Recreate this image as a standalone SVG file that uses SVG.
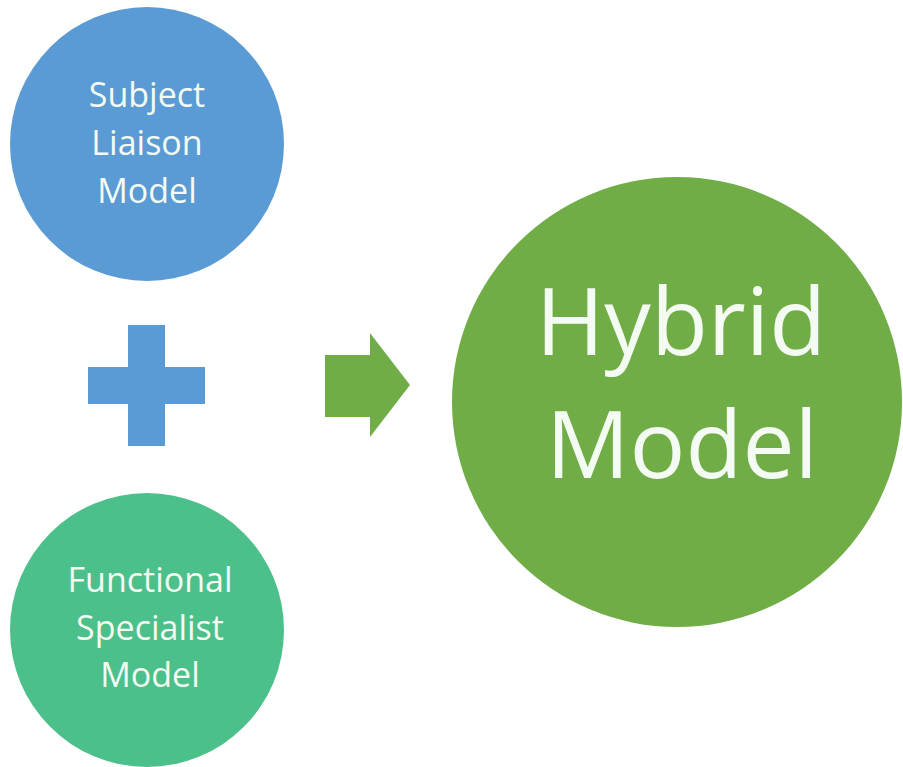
<svg xmlns="http://www.w3.org/2000/svg" width="903" height="767" viewBox="0 0 903 767">
<style>
.lbl{font-family:"Open Sans","Noto Sans","Liberation Sans",sans-serif;fill:#f4fbf2;text-anchor:middle}
.sm{font-size:34px}
.lg{font-size:93px}
</style>
<rect width="903" height="767" fill="#ffffff"/>
<g id="subject-liaison">
<circle cx="147" cy="144" r="137" fill="#5b9bd5"/>
<text class="lbl sm" x="147" y="107">Subject</text>
<text class="lbl sm" x="147" y="155">Liaison</text>
<text class="lbl sm" x="147" y="203">Model</text>
</g>
<g id="plus">
<path d="M128 325H165V367H205V404H165V446H128V404H88V367H128Z" fill="#5b9bd5"/>
</g>
<g id="functional-specialist">
<circle cx="147" cy="630" r="137" fill="#4cc08a"/>
<text class="lbl sm" x="150" y="592">Functional</text>
<text class="lbl sm" x="150" y="640">Specialist</text>
<text class="lbl sm" x="150" y="687">Model</text>
</g>
<g id="connectors">
<path d="M325 355H370V333L410 385L370 437V417H325Z" fill="#70ad47"/>
</g>
<g id="hybrid">
<circle cx="677" cy="402" r="225" fill="#70ad47"/>
<text class="lbl lg" x="681" y="355">Hybrid</text>
<text class="lbl lg" x="682" y="478">Model</text>
</g>
</svg>
